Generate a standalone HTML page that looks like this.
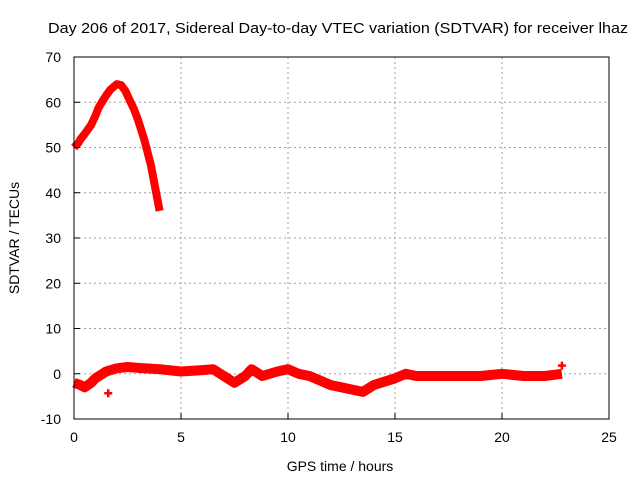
<!DOCTYPE html>
<html><head><meta charset="utf-8"><style>
body{margin:0;background:#fff;}
svg text{font-family:"Liberation Sans",sans-serif;font-size:14px;fill:#000;}
</style></head><body>
<svg id="chart" width="640" height="480" viewBox="0 0 640 480" xmlns="http://www.w3.org/2000/svg">
<text x="48" y="33" textLength="580" lengthAdjust="spacingAndGlyphs" style="font-size:15px">Day 206 of 2017, Sidereal Day-to-day VTEC variation (SDTVAR) for receiver lhaz</text>
<g id="grid"></g>
<g id="series"></g>
<rect x="74" y="57" width="535" height="362" fill="none" stroke="#000" stroke-width="1"/>
<g id="ticks"></g>
<text x="340" y="471" text-anchor="middle">GPS time / hours</text>
<text transform="translate(19,238) rotate(-90)" text-anchor="middle">SDTVAR / TECUs</text>
</svg>
<script>
const xTicks=[0,5,10,15,20,25];
const yTicks=[-10,0,10,20,30,40,50,60,70];
const upperHours=[0,0.2,0.3,0.5,0.8,1,1.15,1.3,1.5,1.7,2,2.2,2.4,2.6,2.8,3,3.3,3.6,3.8,4];
const upperValues=[50,51,51.8,53,55,57,58.8,60,61.5,62.8,64,63.8,62.5,60.5,58.5,56,51.5,46,41,36];
const lowerHours=[0,0.3,0.5,0.8,1,1.5,2,2.5,3,4,5,6,6.5,7,7.5,8,8.3,8.8,9.5,10,10.5,11,11.5,12,12.5,13,13.5,14,15,15.5,16,17,18,19,20,21,22,22.8];
const lowerValues=[-2,-2.5,-3,-2,-1,0.5,1.2,1.5,1.3,1,0.5,0.8,1,-0.5,-2,-0.5,1,-0.5,0.5,1,0,-0.5,-1.5,-2.5,-3,-3.5,-4,-2.5,-1,0,-0.5,-0.5,-0.5,-0.5,0,-0.5,-0.5,0];
const outlierHours=[1.6,22.8];
const outlierValues=[-4.3,1.8];
const X0=74,X1=609,Y0=419,Y1=57;
const xs=v=>X0+(v-0)/25*(X1-X0);
const ys=v=>Y0-(v+10)/80*(Y0-Y1);
const NS="http://www.w3.org/2000/svg";
const grid=document.getElementById('grid'),ticks=document.getElementById('ticks'),series=document.getElementById('series');
function mk(tag,attrs,parent){const e=document.createElementNS(NS,tag);for(const k in attrs)e.setAttribute(k,attrs[k]);parent.appendChild(e);return e;}
xTicks.forEach(t=>{
  const x=xs(t);
  if(t>0&&t<25){const g=mk('line',{x1:x,x2:x,y1:Y1,y2:Y0,stroke:'#a0a0a0','stroke-dasharray':'2,3'},grid);
  
  }
  const l=mk('text',{x:x,y:Y0+23,'text-anchor':'middle'},ticks);l.textContent=t;
  
  
  mk('line',{x1:x,x2:x,y1:Y0,y2:Y0-6,stroke:'#000'},ticks);
});
yTicks.forEach(t=>{
  const y=ys(t);
  if(t>-10&&t<70){const g=mk('line',{x1:X0,x2:X1,y1:y,y2:y,stroke:'#a0a0a0','stroke-dasharray':'2,3'},grid);
  
  }
  const l=mk('text',{x:X0-13,y:y+5,'text-anchor':'end'},ticks);l.textContent=t;
  
  
  mk('line',{x1:X0,x2:X0+6,y1:y,y2:y,stroke:'#000'},ticks);
});
function pts(h,v){return h.map((t,i)=>xs(t).toFixed(1)+','+ys(v[i]).toFixed(1)).join(' ');}
const up=mk('polyline',{points:pts(upperHours,upperValues),fill:'none',stroke:'#ff0000','stroke-width':8,'stroke-linejoin':'round'},series);


const lo=mk('polyline',{points:pts(lowerHours,lowerValues),fill:'none',stroke:'#ff0000','stroke-width':10,'stroke-linejoin':'round'},series);


outlierHours.forEach((h,i)=>{
  const x=xs(h),y=ys(outlierValues[i]);
  const p=mk('path',{d:`M${x-4},${y}H${x+4}M${x},${y-4}V${y+4}`,stroke:'#ff0000','stroke-width':2.5,fill:'none'},series);
  
  
});
</script>
</body></html>
